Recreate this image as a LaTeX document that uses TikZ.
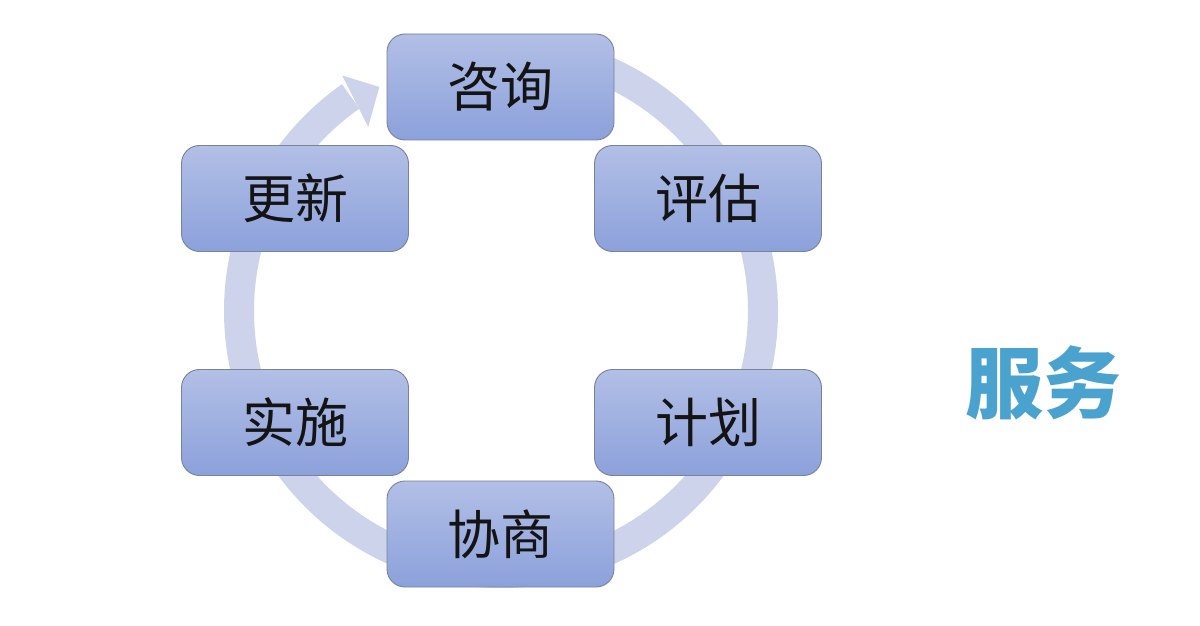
\documentclass[tikz,border=0pt]{standalone}
\usepackage{fontspec}
\newfontfamily\cjk{Noto Sans CJK SC}
\usetikzlibrary{calc}
\definecolor{ringc}{HTML}{CDD3EA}
\definecolor{boxtop}{HTML}{B2BFE6}
\definecolor{boxbot}{HTML}{8CA1DB}
\definecolor{boxline}{HTML}{78829A}
\definecolor{titlec}{HTML}{4AA3CF}
\tikzset{
  stagebox/.style={draw=boxline, line width=0.9pt, rounded corners=18pt,
    minimum width=227pt, minimum height=106pt, top color=boxtop, bottom color=boxbot,
    font=\cjk\fontsize{53}{58}\selectfont, text=black!92, inner sep=0pt},
}
\begin{document}
\begin{tikzpicture}[x=1pt,y=1pt]
\useasboundingbox[fill=white] (0,0) rectangle (1200,625);
\coordinate (c) at (501,314);
% ring
\draw[ringc, line width=30pt] ($(c)+(90:262)$) arc[start angle=90, end angle=-235, radius=262];
\fill[ringc] ($(c)+(125.8:227)$) -- ($(c)+(124:284)$) -- ($(c)+(118.5:255)$) -- cycle;
% boxes
\node[stagebox] (zx) at (500.5,538) {咨询};
\node[stagebox] (pg) at (708,426.5) {评估};
\node[stagebox] (jh) at (708,202.5) {计划};
\node[stagebox] (xs) at (500.5,91) {协商};
\node[stagebox] (ss) at (295,202.5) {实施};
\node[stagebox] (gx) at (295,426.5) {更新};
% title
\node[font=\cjk\bfseries\fontsize{78}{84}\selectfont, text=titlec, inner sep=0pt] (fw) at (1043,242.5) {服务};
\end{tikzpicture}
\end{document}
